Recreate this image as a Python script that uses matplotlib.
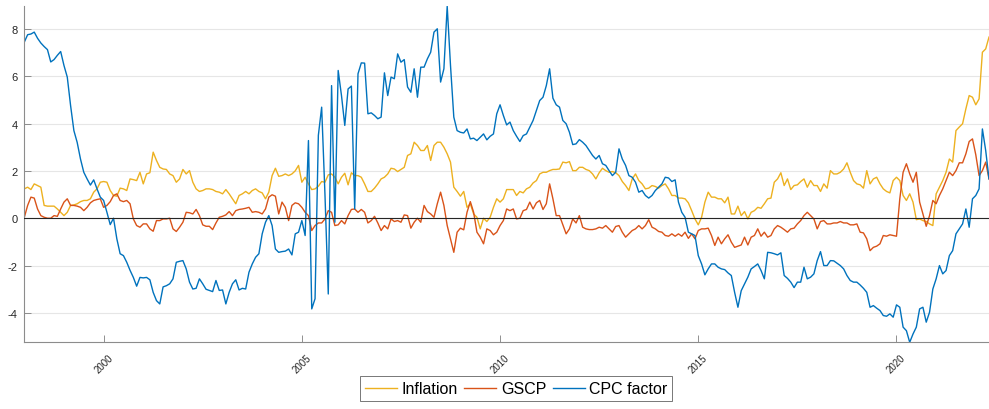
import numpy as np
import matplotlib
matplotlib.use("Agg")
import matplotlib.pyplot as plt

# monthly series, Jan 1998 - May 2022 (one row per year)
inflation = [
    1.24, 1.31, 1.21, 1.45, 1.38, 1.31, 0.54, 0.51, 0.51, 0.51, 0.39, 0.25,
    0.11, 0.25, 0.54, 0.56, 0.61, 0.70, 0.75, 0.75, 0.82, 1.10, 1.24, 1.52,
    1.55, 1.52, 1.17, 0.96, 0.93, 1.27, 1.24, 1.17, 1.66, 1.63, 1.59, 1.94,
    1.45, 1.87, 1.92, 2.79, 2.44, 2.15, 2.08, 2.06, 1.87, 1.80, 1.52, 1.66,
    2.06, 1.87, 2.01, 1.52, 1.24, 1.13, 1.17, 1.24, 1.24, 1.21, 1.13, 1.10,
    1.03, 1.21, 1.03, 0.82, 0.61, 0.96, 1.03, 1.13, 1.03, 1.17, 1.24, 1.13,
    1.07, 0.82, 1.10, 1.80, 2.11, 1.77, 1.80, 1.87, 1.80, 1.87, 2.00, 2.23,
    1.52, 1.73, 1.45, 1.21, 1.24, 1.35, 1.55, 1.52, 1.83, 1.87, 1.73, 1.45,
    1.73, 1.90, 1.41, 1.92, 1.80, 1.80, 1.73, 1.45, 1.13, 1.13, 1.27, 1.45,
    1.66, 1.73, 1.87, 2.11, 2.08, 1.97, 2.06, 2.15, 2.65, 2.72, 3.21, 3.07,
    2.86, 2.86, 3.07, 2.44, 3.07, 3.21, 3.21, 3.00, 2.72, 2.37, 1.31, 1.13,
    0.93, 1.13, 0.46, 0.61, 0.18, 0.04, -0.45, 0.00, -0.14, 0.04, 0.46, 0.82,
    0.68, 0.82, 1.21, 1.21, 1.21, 0.96, 1.13, 1.07, 1.24, 1.31, 1.49, 1.59,
    1.87, 1.94, 1.94, 2.01, 2.06, 2.06, 2.08, 2.37, 2.34, 2.39, 2.01, 2.01,
    2.15, 2.15, 2.06, 2.01, 1.87, 1.66, 1.92, 2.11, 2.01, 1.94, 1.97, 1.92,
    1.80, 1.55, 1.38, 1.17, 1.66, 1.87, 1.59, 1.45, 1.24, 1.27, 1.38, 1.34,
    1.27, 1.38, 1.45, 1.24, 0.96, 0.96, 0.85, 0.85, 0.82, 0.65, 0.32, -0.03,
    -0.28, 0.04, 0.68, 1.10, 0.89, 0.89, 0.82, 0.82, 0.65, 0.89, 0.18, 0.18,
    0.51, 0.11, 0.28, -0.03, 0.25, 0.32, 0.46, 0.42, 0.61, 0.82, 0.85, 1.52,
    1.66, 1.92, 1.38, 1.66, 1.21, 1.38, 1.41, 1.55, 1.66, 1.31, 1.59, 1.38,
    1.38, 1.13, 1.45, 1.27, 2.01, 1.87, 1.87, 1.94, 2.08, 2.34, 1.94, 1.59,
    1.45, 1.41, 1.27, 2.01, 1.45, 1.66, 1.73, 1.45, 1.24, 1.13, 1.07, 1.59,
    1.73, 1.59, 0.96, 0.75, 1.03, 0.68, -0.06, -0.03, -0.10, -0.14, -0.24, -0.31,
    1.03, 1.31, 1.59, 1.94, 2.50, 2.37, 3.70, 3.85, 3.99, 4.62, 5.18, 5.11,
    4.79, 5.04, 7.01, 7.15, 7.65,
]

gscp = [
    0.04, 0.54, 0.89, 0.85, 0.39, 0.11, 0.04, 0.00, 0.00, 0.11, 0.08, 0.39,
    0.68, 0.82, 0.54, 0.54, 0.51, 0.46, 0.32, 0.46, 0.65, 0.75, 0.79, 0.82,
    0.46, 0.54, 0.70, 0.96, 1.03, 0.75, 0.70, 0.75, 0.61, -0.03, -0.31, -0.38,
    -0.24, -0.24, -0.45, -0.55, -0.10, -0.10, -0.03, -0.03, 0.00, -0.45, -0.56, -0.38,
    -0.17, 0.25, 0.23, 0.18, 0.37, 0.11, -0.28, -0.34, -0.34, -0.48, -0.20, 0.04,
    0.08, 0.14, 0.28, 0.11, 0.32, 0.37, 0.39, 0.42, 0.46, 0.25, 0.28, 0.25,
    0.18, 0.39, 0.89, 0.99, 0.93, 0.18, 0.68, 0.46, -0.10, 0.54, 0.65, 0.61,
    0.46, 0.25, 0.11, -0.52, -0.31, -0.20, -0.20, -0.03, 0.32, 0.25, -0.31, -0.28,
    -0.10, -0.24, 0.11, 0.37, 0.39, 0.25, 0.37, 0.25, -0.20, -0.10, 0.08, -0.20,
    -0.52, -0.31, -0.45, -0.03, -0.14, -0.10, -0.17, 0.14, 0.11, -0.42, -0.17, 0.00,
    -0.17, 0.54, 0.28, 0.18, 0.04, 0.61, 1.10, 0.54, -0.31, -0.87, -1.44, -0.59,
    -0.42, -0.49, 0.25, 0.70, 0.25, -0.59, -0.80, -1.08, -0.45, -0.52, -0.70, -0.59,
    -0.31, -0.10, 0.39, 0.32, 0.39, -0.03, 0.00, 0.32, 0.37, 0.68, 0.39, 0.65,
    0.75, 0.37, 0.61, 1.45, 0.82, 0.11, 0.11, -0.28, -0.66, -0.45, -0.03, -0.20,
    0.11, -0.38, -0.45, -0.48, -0.48, -0.45, -0.38, -0.42, -0.31, -0.45, -0.59, -0.35,
    -0.31, -0.59, -0.80, -0.66, -0.52, -0.45, -0.31, -0.45, -0.31, -0.06, -0.38, -0.45,
    -0.56, -0.59, -0.73, -0.76, -0.66, -0.76, -0.66, -0.76, -0.59, -0.85, -0.66, -0.87,
    -0.52, -0.45, -0.45, -0.42, -0.73, -1.15, -0.80, -1.08, -0.87, -0.70, -1.01, -1.23,
    -1.18, -1.13, -0.80, -1.13, -0.80, -0.73, -0.45, -0.76, -0.59, -0.80, -0.73, -0.45,
    -0.31, -0.38, -0.48, -0.59, -0.45, -0.42, -0.24, -0.10, 0.11, 0.25, 0.11, -0.03,
    -0.45, -0.14, -0.10, -0.24, -0.24, -0.20, -0.20, -0.14, -0.20, -0.20, -0.28, -0.28,
    -0.24, -0.59, -0.62, -0.87, -1.37, -1.23, -1.18, -1.08, -0.73, -0.76, -0.70, -0.73,
    -0.76, 0.82, 1.94, 2.30, 1.87, 1.52, 1.94, 0.68, 0.18, -0.34, 0.11, 0.75,
    0.61, 0.96, 1.24, 1.59, 1.94, 1.80, 2.01, 2.34, 2.34, 2.72, 3.24, 3.35,
    2.68, 1.80, 2.01, 2.37, 1.66,
]

cpc_factor = [
    7.44, 7.75, 7.78, 7.86, 7.60, 7.40, 7.25, 7.12, 6.60, 6.70, 6.88, 7.04,
    6.45, 5.96, 4.76, 3.70, 3.20, 2.50, 1.94, 1.66, 1.40, 1.62, 1.24, 0.89,
    0.75, 0.25, -0.27, 0.00, -0.87, -1.50, -1.58, -1.86, -2.20, -2.50, -2.87, -2.50,
    -2.52, -2.50, -2.60, -3.13, -3.48, -3.62, -2.90, -2.85, -2.77, -2.56, -1.86, -1.82,
    -1.79, -2.14, -2.70, -2.99, -2.96, -2.56, -2.77, -3.00, -3.05, -3.10, -2.63, -3.05,
    -3.03, -3.62, -3.13, -2.77, -2.60, -3.03, -2.96, -2.99, -2.28, -1.93, -1.65, -1.50,
    -0.66, -0.17, 0.11, -0.31, -1.30, -1.44, -1.41, -1.39, -1.30, -1.55, -0.66, -0.59,
    -0.10, -0.73, 3.28, -3.83, -3.40, 3.50, 4.69, 1.00, -3.20, 5.60, -0.17, 6.24,
    5.18, 3.92, 5.46, 5.58, 0.39, 6.10, 6.56, 6.55, 4.41, 4.45, 4.34, 4.20,
    4.27, 6.14, 5.18, 5.96, 5.89, 6.94, 6.59, 6.70, 5.54, 5.32, 6.31, 5.11,
    6.38, 6.38, 6.73, 7.01, 7.86, 8.00, 5.75, 6.31, 8.95, 6.45, 4.27, 3.70,
    3.63, 3.60, 3.77, 3.35, 3.38, 3.28, 3.42, 3.56, 3.31, 3.46, 3.56, 4.41,
    4.79, 4.34, 3.94, 4.06, 3.70, 3.46, 3.24, 3.49, 3.56, 3.85, 4.13, 4.55,
    4.97, 5.11, 5.60, 6.31, 5.07, 4.79, 4.69, 4.13, 3.99, 3.63, 3.11, 3.14,
    3.32, 3.21, 3.07, 2.86, 2.65, 2.50, 2.65, 2.30, 2.23, 2.01, 1.80, 1.94,
    2.93, 2.50, 2.23, 1.80, 1.73, 1.52, 1.10, 1.17, 0.96, 0.85, 0.96, 1.17,
    1.31, 1.45, 1.73, 1.70, 1.55, 1.62, 0.68, 0.25, 0.04, -0.59, -0.66, -0.73,
    -1.58, -1.93, -2.39, -2.14, -1.93, -1.93, -2.07, -2.14, -2.17, -2.31, -2.42, -3.13,
    -3.76, -3.06, -2.77, -2.49, -2.14, -2.04, -1.93, -2.21, -2.56, -1.44, -1.46, -1.50,
    -1.55, -1.46, -2.42, -2.54, -2.70, -2.93, -2.70, -2.70, -2.07, -2.56, -2.49, -2.35,
    -1.79, -1.41, -2.00, -2.00, -1.79, -1.80, -1.90, -2.00, -2.14, -2.42, -2.63, -2.70,
    -2.70, -2.82, -2.96, -3.13, -3.76, -3.69, -3.80, -3.90, -4.11, -4.14, -4.04, -4.18,
    -3.66, -3.76, -4.60, -4.75, -5.24, -4.89, -4.60, -3.83, -3.76, -4.39, -3.97, -2.99,
    -2.56, -2.00, -2.35, -2.21, -1.58, -1.37, -0.66, -0.45, -0.24, 0.39, -0.38, 0.82,
    0.96, 1.24, 3.77, 2.86, 1.66,
]

start_year = 1998
year_ticks = [2000, 2005, 2010, 2015, 2020]
y_ticks = [-4, -2, 0, 2, 4, 6, 8]

t = start_year + np.arange(len(cpc_factor)) / 12.0

plt.rcParams['font.family'] = ['Liberation Sans', 'DejaVu Sans']

fig = plt.figure(figsize=(9.89, 4.10), dpi=100)
ax = fig.add_axes([0.0246, 0.1627, 0.9754, 0.8195])

ax.plot(t, inflation, color='#EDB120', lw=1.0, label='Inflation')
ax.plot(t, gscp, color='#D95319', lw=1.0, label='GSCP')
ax.plot(t, cpc_factor, color='#0072BD', lw=1.0, label='CPC factor')
ax.axhline(0, color='#262626', lw=0.8, zorder=5)

allv = np.concatenate([inflation, gscp, cpc_factor])
ax.set_xlim(t[0], t[-1])
ax.set_ylim(allv.min(), allv.max())

ax.set_xticks(year_ticks)
ax.set_xticklabels([str(y) for y in year_ticks], rotation=45, fontsize=7)
ax.set_yticks(y_ticks)
ax.set_yticklabels([str(v) for v in y_ticks], fontsize=8)

ax.grid(axis='y', color='#e6e6e6', lw=0.8)
ax.set_axisbelow(True)
ax.tick_params(direction='in', length=5, width=0.6, colors='#7f7f7f',
               labelcolor='#262626')
ax.tick_params(axis='x', pad=7)
ax.tick_params(axis='y', pad=5)
for side in ['top', 'right']:
    ax.spines[side].set_visible(False)
for side in ['left', 'bottom']:
    ax.spines[side].set_color('#8c8c8c')
    ax.spines[side].set_linewidth(0.8)

leg = fig.legend(loc='lower center', bbox_to_anchor=(0.522, 0.0), ncol=3,
                 frameon=True, fancybox=False, edgecolor='#3a3a3a',
                 handlelength=2.0, handletextpad=0.3, columnspacing=0.4,
                 borderpad=0.3, prop={'size': 11.5})
leg.get_frame().set_linewidth(0.6)

fig.savefig('out.png', dpi=100)
